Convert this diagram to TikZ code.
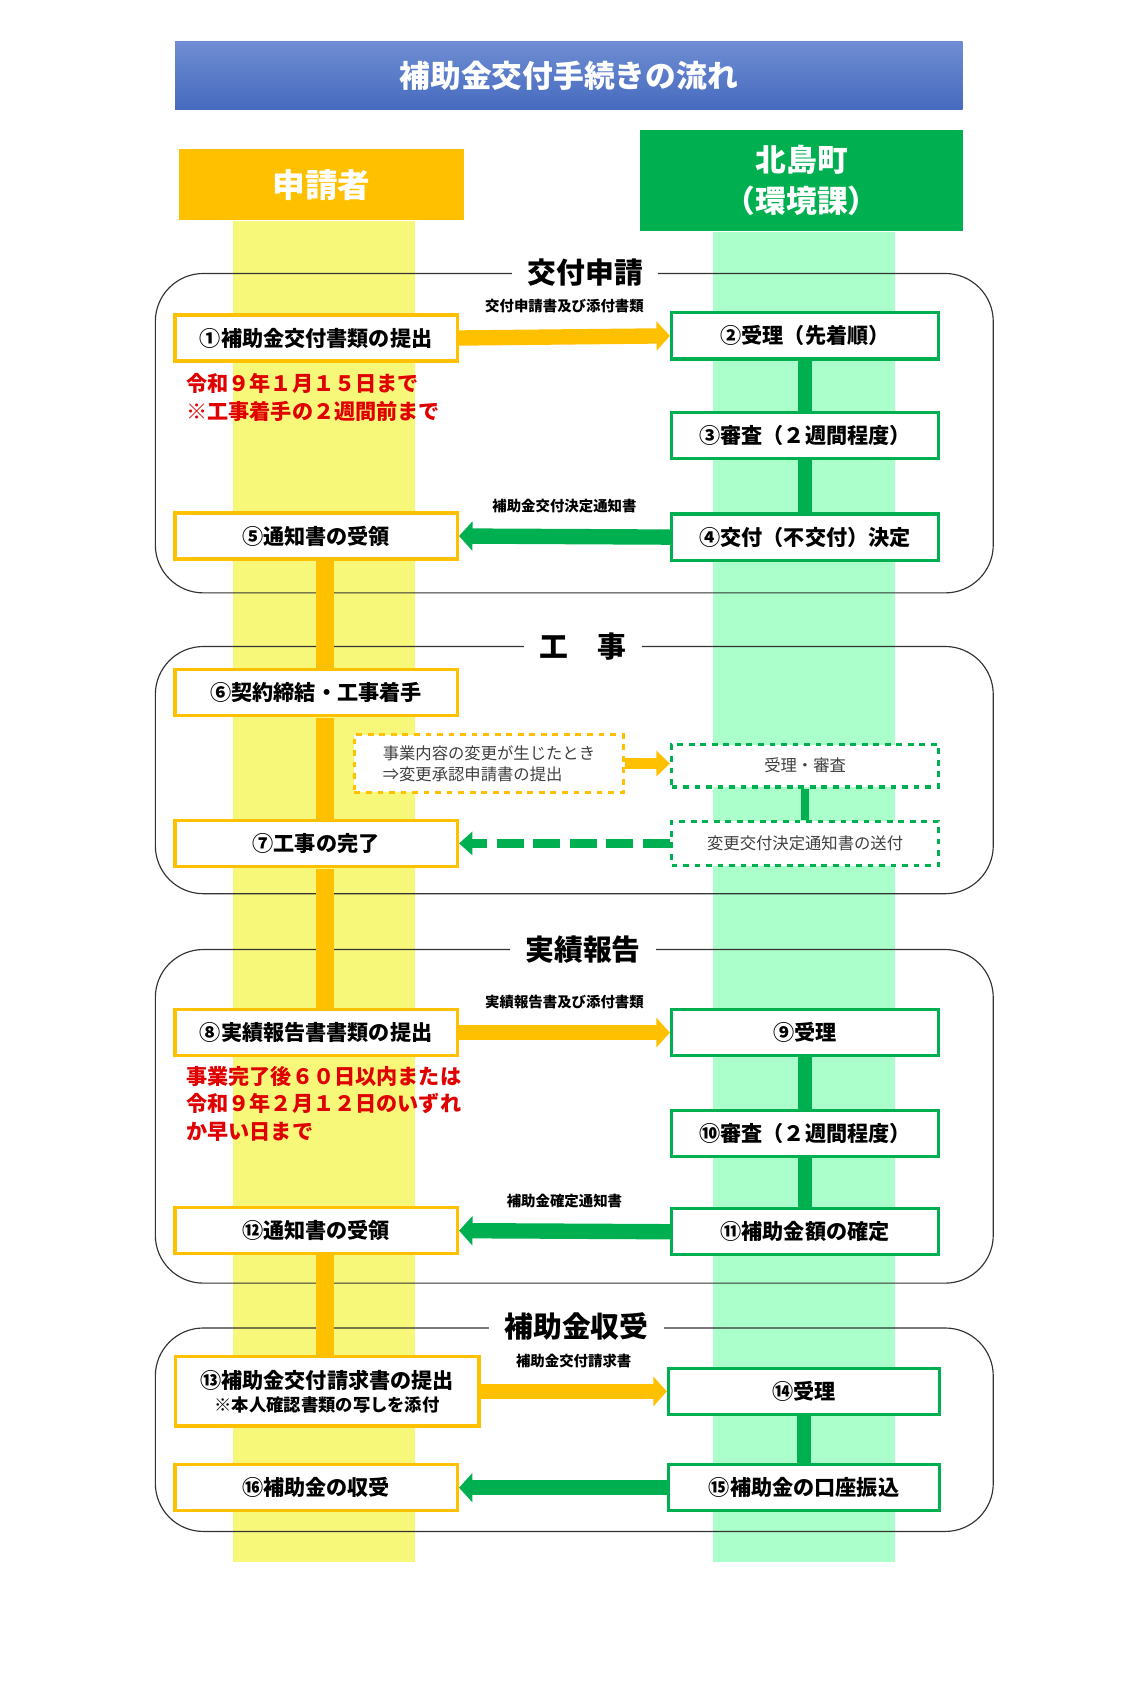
\documentclass[tikz,border=0pt]{standalone}
\usepackage{fontspec}
\setmainfont{Noto Sans CJK JP}
\usetikzlibrary{arrows.meta, positioning}
\definecolor{ored}{HTML}{FFC000}
\definecolor{ggreen}{HTML}{00B050}
\definecolor{lyellow}{HTML}{F7F77A}
\definecolor{lgreen}{HTML}{ABFFCB}
\definecolor{tblue}{HTML}{4A70C8}
\definecolor{dred}{HTML}{E00000}
\tikzstyle{lbox} = [
    rectangle,
    draw=ored,
    line width=1.7pt,
    fill=white,
    minimum width=147pt,
    minimum height=24pt,
    font=\bfseries\fontsize{11}{13}\selectfont
]
\tikzstyle{rbox} = [
    rectangle,
    draw=ggreen,
    line width=1.7pt,
    fill=white,
    minimum width=139pt,
    minimum height=24pt,
    font=\bfseries\fontsize{11}{13}\selectfont
]
\tikzstyle{frame} = [draw=black!80, line width=0.6pt, rounded corners=25pt]
\tikzstyle{sectitle} = [fill=white, inner xsep=8pt, font=\bfseries\fontsize{15}{17}\selectfont]
\tikzstyle{oarrow} = [ored, line width=8pt, -{Triangle[length=7pt,width=15pt]}]
\tikzstyle{garrow} = [ggreen, line width=8pt, -{Triangle[length=7pt,width=15pt]}]
\tikzstyle{olink} = [ored, line width=9pt]
\tikzstyle{glink} = [ggreen, line width=7pt]
\tikzstyle{note} = [text=black, font=\bfseries\fontsize{7.5}{9}\selectfont, above=1pt]
\tikzstyle{redtext} = [anchor=north west, align=left, text=dred, font=\bfseries\fontsize{11}{14.5}\selectfont, inner sep=0pt]

\begin{document}
\begin{tikzpicture}[x=0.02cm, y=-0.02cm]
\useasboundingbox (0,0) rectangle (1040,1555);

% lanes
\fill[lyellow] (213,202) rectangle (379,1428);
\fill[lgreen] (652,212) rectangle (818,1428);

% headers
\shade[top color=tblue!80!white, bottom color=tblue!95!black] (160,38) rectangle (880,100);
\node (title) at (520,69) [text=white, font=\bfseries\fontsize{16}{18}\selectfont] {補助金交付手続きの流れ};
\node (appl) at (294,169) [fill=ored, minimum width=148pt, minimum height=37pt, text=white, font=\bfseries\fontsize{17}{19}\selectfont] {申請者};
\node (town) at (733,165) [fill=ggreen, minimum width=168pt, minimum height=53pt, text=white, align=center, font=\bfseries\fontsize{16}{21}\selectfont] {北島町\\（環境課）};

% sections
\draw[frame] (142,250) rectangle (908,542);
\node[sectitle] (s1) at (535,249) {交付申請};
\draw[frame] (142,591) rectangle (908,817);
\node[sectitle] (s2) at (533,591) {工　事};
\draw[frame] (142,868) rectangle (908,1173);
\node[sectitle] (s3) at (533,868) {実績報告};
\draw[frame] (142,1214) rectangle (908,1400);
\node[sectitle] (s4) at (527,1213) {補助金収受};

% applicant links
\draw[olink] (297,513) -- (297,611);
\draw[olink] (297,656) -- (297,749);
\draw[olink] (297,794) -- (297,922);
\draw[olink] (297,1147) -- (297,1240);

% boxes
\node (b1) [lbox] at (289,309) {①補助金交付書類の提出};
\node (b2) [rbox] at (736,307) {②受理（先着順）};
\node (b3) [rbox] at (736,398) {③審査（２週間程度）};
\node (b4) [rbox] at (736,491) {④交付（不交付）決定};
\node (b5) [lbox] at (289,490) {⑤通知書の受領};
\node (b6) [lbox] at (289,633) {⑥契約締結・工事着手};
\node (b7) [lbox] at (289,771) {⑦工事の完了};
\node (b8) [lbox] at (289,944) {⑧実績報告書書類の提出};
\node (b9) [rbox] at (736,944) {⑨受理};
\node (b10) [rbox] at (736,1036) {⑩審査（２週間程度）};
\node (b11) [rbox] at (736,1126) {⑪補助金額の確定};
\node (b12) [lbox] at (289,1125) {⑫通知書の受領};
\node (b13) [lbox, minimum width=158pt, minimum height=36pt, align=center, font=\bfseries\fontsize{11}{12}\selectfont] at (299,1272) {⑬補助金交付請求書の提出\\{\fontsize{9}{10}\selectfont ※本人確認書類の写しを添付}};
\node (b14) [rbox, minimum width=141pt] at (735,1272) {⑭受理};
\node (b15) [rbox, minimum width=141pt] at (735,1360) {⑮補助金の口座振込};
\node (b16) [lbox] at (289,1360) {⑯補助金の収受};

% change request
\node (chg) [draw=ored, dashed, line width=1.5pt, fill=white, minimum width=140pt, minimum height=30pt, align=left, text=black!75, font=\fontsize{8.5}{11}\selectfont] at (447,698) {事業内容の変更が生じたとき\\⇒変更承認申請書の提出};
\node (chk) [rbox, dashed, minimum height=22pt, text=black!75, font=\fontsize{8.5}{10}\selectfont] at (736,700) {受理・審査};
\node (snd) [rbox, dashed, minimum height=23pt, text=black!75, font=\fontsize{8.5}{10}\selectfont] at (736,771) {変更交付決定通知書の送付};

% red notes
\node[redtext] (n1) at (170,341) {令和９年１月１５日まで\\※工事着手の２週間前まで};
\node[redtext] (n2) at (170,974) {事業完了後６０日以内または\\令和９年２月１２日のいずれ\\か早い日まで};

% office links
\draw[glink] (b2) -- (b3);
\draw[glink] (b3) -- (b4);
\draw[glink, line width=4pt] (chk) -- (snd);
\draw[glink] (b9) -- (b10);
\draw[glink] (b10) -- (b11);
\draw[glink] (b14) -- (b15);

% arrows
\draw[oarrow] (b1.east) -- (b2.west) node[note, midway, yshift=4pt] {交付申請書及び添付書類};
\draw[garrow] (b4.west) -- (b5.east) node[note, midway, yshift=4pt] {補助金交付決定通知書};
\draw[oarrow, -{Triangle[length=7pt,width=13pt]}, line width=6pt] (chg.east) -- (chk.west |- chg.east);
\draw[garrow, dash pattern=on 14pt off 5pt, line width=5pt, -{Triangle[length=7pt,width=12pt]}] (snd.west) -- (b7.east);
\draw[oarrow] (b8.east) -- (b9.west) node[note, midway, yshift=4pt] {実績報告書及び添付書類};
\draw[garrow] (b11.west) -- (b12.east) node[note, midway, yshift=4pt] {補助金確定通知書};
\draw[oarrow] (b13.east) -- (b14.west) node[note, midway, yshift=4pt] {補助金交付請求書};
\draw[garrow] (b15.west) -- (b16.east);

\end{tikzpicture}
\end{document}
